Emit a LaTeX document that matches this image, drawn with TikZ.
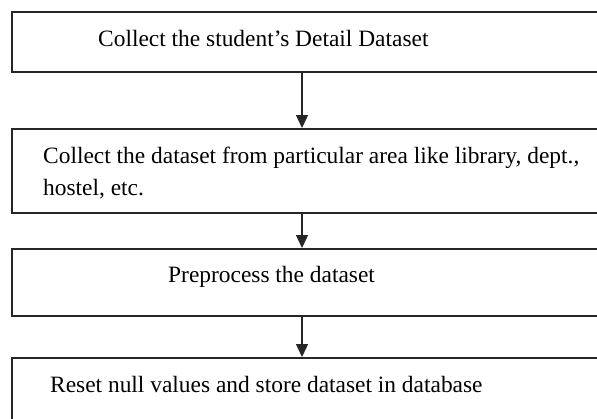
\documentclass[tikz,border=0pt]{standalone}
\usepackage{fontspec}
\setmainfont{Liberation Serif}
\usetikzlibrary{arrows.meta}
\definecolor{ink}{HTML}{262626}
\tikzset{
  stepbox/.style={draw=ink, line width=1.5bp, rectangle, inner sep=0pt, anchor=north west, minimum width=620bp},
  lbl/.style={inner sep=0pt, anchor=base west, text=black, font=\fontsize{23.5}{32}\selectfont},
  arr/.style={draw=ink, line width=1.3bp, -{Triangle[length=13bp,width=12bp]}}
}
\begin{document}
\begin{tikzpicture}[x=1bp,y=-1bp]
\useasboundingbox (0,0) rectangle (597,418);
\clip (0,0) rectangle (597,418);
\fill[white] (0,0) rectangle (597,418);
\node[stepbox, minimum height=60bp] (b1) at (11,11) {};
\node[stepbox, minimum height=84bp] (b2) at (11,128) {};
\node[stepbox, minimum height=67bp] (b3) at (11,248) {};
\node[stepbox, minimum height=90bp] (b4) at (11,357) {};
\coordinate (ax) at (302,0);
\node[lbl] (t1) at (98,46) {Collect the student’s Detail Dataset};
\node[lbl] (t2a) at (43,163) {Collect the dataset from particular area like library, dept.,};
\node[lbl] (t2b) at (43,195) {hostel, etc.};
\node[lbl] (t3) at (168,282) {Preprocess the dataset};
\node[lbl] (t4) at (50,392) {Reset null values and store dataset in database};
\draw[arr] (b1.south -| ax) -- (b2.north -| ax);
\draw[arr] (b2.south -| ax) -- (b3.north -| ax);
\draw[arr] (b3.south -| ax) -- (b4.north -| ax);
\end{tikzpicture}
\end{document}
